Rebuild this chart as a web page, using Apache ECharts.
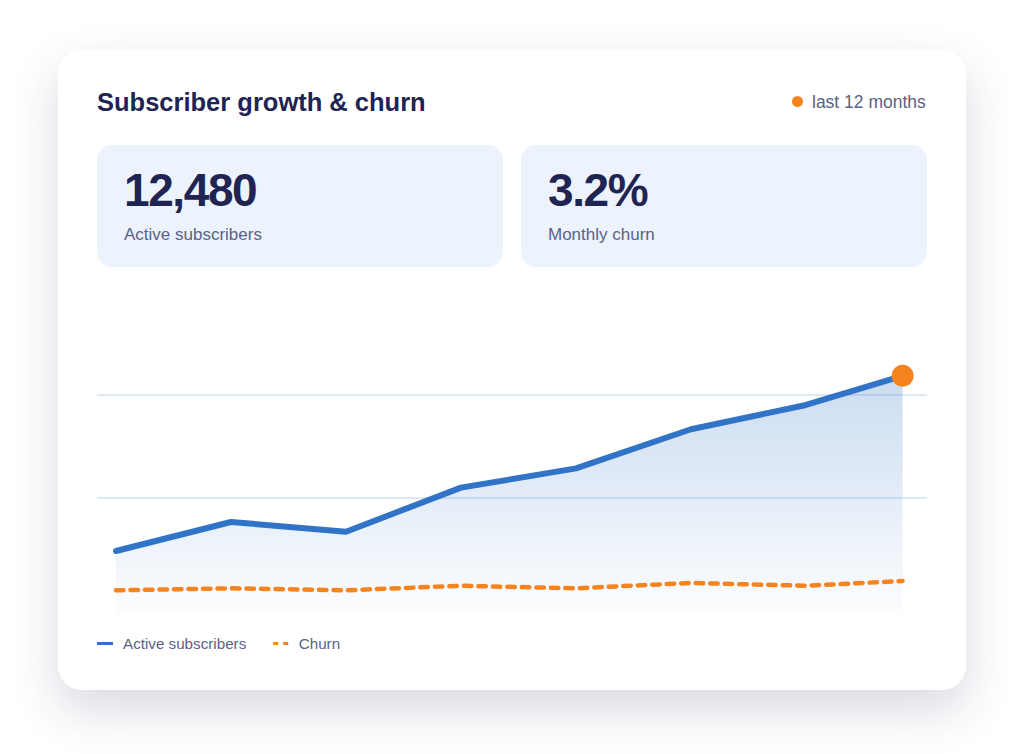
<!DOCTYPE html>
<html>
<head>
<meta charset="utf-8">
<script src="https://cdn.jsdelivr.net/npm/echarts@6/dist/echarts.min.js"></script>
<style>
  html, body { margin: 0; padding: 0; background: #fff; }
  body { width: 1024px; height: 754px; position: relative; overflow: hidden; font-family: 'Liberation Sans', Arial, sans-serif; }
  .card { position: absolute; left: 58px; top: 50px; width: 908px; height: 640px; background: #fff; border-radius: 24px; box-shadow: 0 20px 48px rgba(31, 36, 82, 0.17); }
  .title { position: absolute; left: 97px; top: 87px; font-weight: bold; font-size: 25.5px; line-height: 30px; color: #1f2452; white-space: nowrap; }
  .badge { position: absolute; left: 792px; top: 92px; font-size: 17.5px; line-height: 20px; color: #5b6287; white-space: nowrap; }
  .badge .dot { display: inline-block; width: 11px; height: 11px; border-radius: 50%; background: #f5841f; margin-right: 9px; vertical-align: 1px; }
  .kpi { position: absolute; top: 145px; width: 406px; height: 122px; background: #ecf3fc; border-radius: 15px; }
  .kpi .num { position: absolute; left: 27px; top: 19px; font-weight: bold; font-size: 46px; line-height: 52px; letter-spacing: -1.4px; color: #1f2452; white-space: nowrap; }
  .kpi .lbl { position: absolute; left: 27px; top: 80px; font-size: 17px; line-height: 20px; color: #5b6287; white-space: nowrap; }
  #chart { position: absolute; left: 0; top: 0; width: 1024px; height: 754px; }
</style>
</head>
<body>
<div class="card"></div>
<div class="title">Subscriber growth &amp; churn</div>
<div class="badge"><span class="dot"></span>last 12 months</div>
<div class="kpi" style="left:97px"><div class="num">12,480</div><div class="lbl">Active subscribers</div></div>
<div class="kpi" style="left:521px"><div class="num">3.2%</div><div class="lbl">Monthly churn</div></div>
<div id="chart"></div>
<script>
// 数据 (x 位置按月, 最后一个点是当前月份的部分值)
var months = [0, 1, 2, 3, 4, 5, 6, 6.84];
var activeK = [3.30, 4.82, 4.31, 6.62, 7.63, 9.68, 10.95, 12.48];   // 千人
var churnPct = [2.30, 2.49, 2.30, 2.74, 2.49, 3.01, 2.74, 3.20];   // %
var gridValues = [6.09, 11.47];

var blue = '#3174c7';
var orange = '#f5841f';

function pairs(xs, ys) {
    var out = [];
    for (var i = 0; i < xs.length; i++) {
        out.push([xs[i], ys[i]]);
    }
    return out;
}

var chart = echarts.init(document.getElementById('chart'), null, { renderer: 'svg' });

chart.setOption({
    animation: false,
    grid: {
        left: 97,
        right: 97,
        top: 300,
        bottom: 140
    },
    legend: {
        left: 97,
        top: 636,
        padding: 0,
        itemWidth: 16,
        itemHeight: 3,
        itemGap: 27,
        textStyle: {
            color: '#5b6287',
            fontSize: 15.2,
            fontFamily: 'Liberation Sans',
            padding: [0, 0, 0, 5]
        },
        data: [
            { name: 'Active subscribers', icon: 'path://M0,0H16V3H0Z' },
            { name: 'Churn', icon: 'path://M0,0H5V3H0Z M10,0H15V3H10Z' }
        ]
    },
    xAxis: {
        type: 'value',
        min: -0.165,
        max: 7.052,
        show: false
    },
    yAxis: [
        { type: 'value', min: 0, max: 16.45, show: false },
        { type: 'value', min: 0, max: 30.45, show: false }
    ],
    series: [
        {
            name: 'Active subscribers',
            type: 'line',
            data: pairs(months, activeK),
            symbol: 'none',
            z: 3,
            lineStyle: {
                color: blue,
                width: 6,
                join: 'round',
                cap: 'round'
            },
            itemStyle: { color: blue },
            areaStyle: {
                color: {
                    type: 'linear',
                    x: 0, y: 0, x2: 0, y2: 1,
                    colorStops: [
                        { offset: 0, color: 'rgba(49,116,199,0.36)' },
                        { offset: 1, color: 'rgba(49,116,199,0.02)' }
                    ]
                }
            },
            markLine: {
                silent: true,
                symbol: 'none',
                label: { show: false },
                lineStyle: { color: 'rgba(49,116,199,0.16)', width: 2, type: 'solid' },
                data: gridValues.map(function (v) { return { yAxis: v }; }),
                z: 1
            },
            markPoint: {
                symbol: 'circle',
                symbolSize: 22,
                label: { show: false },
                itemStyle: { color: orange },
                data: [{ coord: [months[months.length - 1], activeK[activeK.length - 1]] }]
            }
        },
        {
            name: 'Churn',
            type: 'line',
            yAxisIndex: 1,
            data: pairs(months, churnPct),
            symbol: 'none',
            z: 4,
            lineStyle: {
                color: orange,
                width: 4.5,
                type: [7.5, 7],
                cap: 'round'
            },
            itemStyle: { color: orange }
        }
    ]
});
</script>
</body>
</html>
